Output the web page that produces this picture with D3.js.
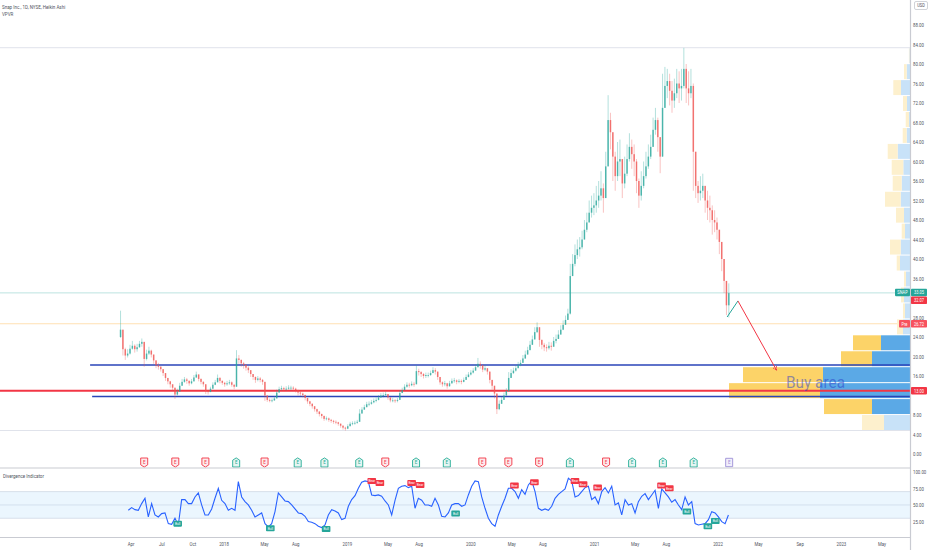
<!DOCTYPE html>
<html><head><meta charset="utf-8">
<script src="https://cdn.jsdelivr.net/npm/d3@7"></script>
<style>
html,body{margin:0;padding:0;background:#fff;}
svg{display:block;font-family:Roboto,"Liberation Sans",sans-serif;}
</style></head><body>
<svg id="c" width="932" height="550"></svg>
<script>
// ---------------- DATA ----------------
const title = "Snap Inc., 1D, NYSE, Heikin Ashi";
const subTitle = "VPVR";
const indicatorName = "Divergence Indicator";
const weekStart = "2017-03-03";   // first weekly bar (week ending)
const firstOpen = 24.0;
// weekly [close, high, low]
const w2017 = [[25.5,29.4,23.8],[21.5,24.5,20.2],[20.2,21.8,19.3],[20.6,21.5,19.8],[21.6,22.4,20.4],[22.2,23.2,21.4],[21.5,22.5,20.8],[21.9,22.6,21.0],[22.6,23.2,21.8],[23.0,23.7,22.0],
[19.5,22.5,17.9],[20.6,21.4,19.2],[21.2,22.0,20.3],[20.4,21.4,19.8],[19.2,20.4,18.5],[18.2,19.2,17.6],[17.9,18.7,17.3],[17.4,18.0,16.9],[16.6,17.3,16.0],[15.6,16.3,15.0],
[14.9,15.6,14.3],[14.3,15.0,13.6],[13.6,14.2,13.0],[12.2,13.4,11.3],[12.8,13.4,12.0],[14.0,14.6,12.9],[14.8,15.4,14.0],[15.3,15.8,14.6],[15.0,15.6,14.4],[14.5,15.1,14.0],
[14.9,15.4,14.3],[15.7,16.2,15.0],[16.3,16.9,15.6],[15.4,16.4,14.9],[14.8,15.5,14.3],[14.3,14.9,13.8],[12.9,14.2,12.3],[12.7,13.2,12.2],[13.4,13.8,12.7],[14.2,14.7,13.3],
[14.7,15.2,14.1],[15.6,16.3,14.8],[15.0,15.8,14.5],[14.6,15.1,14.2]];
const w2018 = [[14.3,14.8,13.8],[14.5,15.0,14.0],[14.7,15.2,14.2],[14.2,14.9,13.8],[13.8,14.3,13.3],[19.6,21.3,13.9],[19.3,20.3,18.5],[18.6,19.4,17.9],[18.3,18.9,17.5],[17.7,18.4,17.1],
[17.2,18.0,16.6],[16.4,17.2,15.8],[15.8,16.4,15.2],[15.2,15.9,14.6],[15.5,16.0,14.9],[15.2,15.8,14.7],[14.8,15.4,14.2],[12.0,14.6,10.9],[11.1,12.0,10.7],[10.9,11.4,10.6],
[11.0,11.4,10.6],[11.4,11.9,10.9],[12.6,13.2,11.4],[13.3,13.8,12.6],[13.5,14.0,13.0],[13.3,13.8,12.9],[13.4,13.9,13.0],[13.6,14.1,13.2],[13.6,14.0,13.1],[13.4,13.9,12.9],
[13.1,13.6,12.6],[12.6,13.2,12.0],[12.4,12.9,11.9],[12.1,12.6,11.6],[11.5,12.2,11.0],[10.8,11.5,10.3],[10.3,10.9,9.8],[9.8,10.4,9.3],[9.2,9.8,8.7],[8.7,9.3,8.2],
[8.2,8.8,7.7],[7.8,8.3,7.3],[7.2,7.9,6.8],[7.3,7.7,6.9],[7.0,7.5,6.6],[6.8,7.2,6.4],[6.6,7.0,6.2],[6.5,6.9,6.1],[6.2,6.6,5.8],[5.8,6.3,5.4],
[5.4,5.9,5.0],[5.2,5.6,4.8]];
const w2019 = [[5.7,6.1,5.1],[6.2,6.6,5.7],[6.3,6.7,5.9],[6.4,6.8,6.0],[6.6,7.0,6.2],[8.3,9.2,6.6],[9.1,9.6,8.4],[9.6,10.1,9.1],[10.2,10.7,9.6],[10.3,10.8,9.8],
[10.6,11.1,10.1],[10.9,11.4,10.4],[11.1,11.6,10.6],[11.6,12.1,11.0],[12.0,12.5,11.5],[12.1,12.6,11.6],[12.3,12.8,11.7],[11.6,12.3,11.1],[11.0,11.6,10.6],[11.0,11.5,10.6],
[10.9,11.3,10.5],[11.1,11.5,10.6],[12.5,13.1,11.1],[13.1,13.6,12.5],[13.8,14.3,13.1],[14.2,14.7,13.6],[14.1,14.6,13.6],[14.4,14.9,13.9],[14.3,14.8,13.8],[17.0,18.2,14.4],
[16.8,17.5,16.1],[16.4,17.0,15.8],[16.0,16.6,15.5],[16.2,16.7,15.6],[16.2,16.7,15.7],[16.6,17.1,16.0],[17.2,17.8,16.6],[16.9,17.6,16.3],[15.8,16.8,15.2],[14.7,15.6,14.2],
[14.3,14.9,13.8],[14.5,15.0,13.9],[13.9,14.6,13.4],[14.5,15.0,13.8],[15.0,15.5,14.4],[15.1,15.6,14.6],[14.8,15.3,14.3],[15.0,15.4,14.5],[14.8,15.3,14.3],[15.2,15.7,14.7],
[15.8,16.3,15.2],[16.3,16.8,15.7]];
const w2020 = [[16.7,17.2,16.1],[17.1,17.6,16.5],[17.8,18.4,17.1],[18.5,19.7,17.8],[18.2,19.0,17.5],[17.3,18.3,16.8],[17.6,18.2,17.0],[16.9,17.6,16.3],[15.2,16.6,14.5],[14.0,14.9,13.2],
[12.4,13.6,11.4],[9.2,11.6,8.2],[10.3,11.0,9.0],[11.1,11.7,10.3],[12.0,12.6,11.2],[12.9,13.5,12.1],[15.6,16.8,12.8],[16.6,17.4,15.8],[17.1,17.7,16.4],[17.6,18.2,16.9],
[18.3,18.9,17.6],[18.7,19.3,18.0],[19.6,20.3,18.8],[20.4,21.2,19.5],[21.3,22.0,20.4],[22.4,23.2,21.4],[23.5,24.3,22.5],[25.0,26.0,23.8],[26.0,27.0,24.8],[23.4,25.8,22.0],
[22.4,23.5,21.5],[21.9,22.8,21.1],[21.7,22.5,21.0],[22.2,23.0,21.4],[22.0,22.9,21.2],[23.2,24.0,22.2],[23.6,24.5,22.7],[24.5,25.4,23.6],[25.5,26.4,24.5],[26.5,27.4,25.4],
[27.5,28.4,26.5],[28.8,29.8,27.6],[36.5,39.0,28.6],[39.0,41.0,36.5],[40.8,43.0,38.5],[42.0,44.0,40.0],[42.4,44.5,40.5],[44.0,45.8,42.0],[46.0,48.0,44.0],[47.5,49.5,45.5],
[49.5,52.0,47.5],[50.5,53.0,48.5]];
const w2021 = [[51.0,53.5,49.0],[52.0,55.0,49.5],[53.0,56.0,50.5],[54.5,58.0,52.0],[52.5,55.5,49.5],[59.0,62.0,52.5],[68.5,73.6,59.0],[66.0,70.0,62.5],[61.0,66.0,56.0],[57.0,62.0,54.0],
[60.0,64.0,56.0],[60.5,64.5,57.0],[55.5,60.0,52.5],[57.5,61.0,54.5],[60.5,63.5,57.0],[63.0,65.8,60.0],[61.5,64.5,58.5],[60.0,63.5,57.0],[56.0,60.5,53.5],[53.0,56.5,50.5],
[55.0,58.0,52.0],[57.0,60.0,54.5],[59.0,62.0,56.5],[61.0,63.5,58.5],[63.0,65.5,60.5],[66.5,69.0,63.5],[68.5,71.0,65.5],[65.0,69.0,62.0],[61.0,65.0,57.6],[71.0,78.0,61.0],
[75.5,79.4,72.0],[76.5,79.0,73.0],[74.5,78.0,71.5],[72.5,76.5,70.0],[74.0,77.0,71.0],[76.0,79.0,73.0],[75.0,78.5,72.0],[75.5,79.0,72.5],[79.0,83.3,75.0],[75.0,80.0,72.0],
[74.0,78.5,71.5],[75.5,79.0,73.0],[62.0,76.0,54.0],[55.0,58.0,52.5],[53.5,56.0,51.5],[54.0,57.0,52.0],[55.0,57.5,52.5],[52.0,55.0,49.5],[50.5,54.0,48.0],[50.0,53.0,47.5],
[48.0,51.0,45.0],[47.5,50.0,45.5],[46.0,48.5,44.0]];
const w2022 = [[43.5,46.0,41.0],[40.0,43.5,37.5],[35.5,40.0,33.0],[30.5,35.5,28.5],[33.0,35.0,28.0]];

// price levels
const lastPrice = 33.05, postPrice = 32.07, prevClose = 26.72;
const rangeHigh = 83.34, rangeLow = 4.82;
const redLevel = 13.0;
const blueLevels = [{p:18.25, from:"2016-12-01"}, {p:11.8, from:"2016-12-07"}];
const arrowPts = [["2022-01-28",28.1],["2022-03-01",31.4],["2022-06-23",17.2]];

// volume profile, rows bottom->top (24 rows between rangeLow and rangeHigh)
const vpUp   = [26,38,90,87,38,29,7,5,6,4,10,9.3,5,6,9.3,8.3,6.7,12.3,3.3,1,3,9,3.3,0.6];
const vpDown = [22,48,91,80,31,28,6,2,3,2,3.3,10.7,3.3,8,15.7,9,11.6,10,4,3.3,4,7.7,2.7,0.5];
const vpValueArea = [1,2,3,4,5];

// earnings
const earnDates = ["2017-05-10","2017-08-10","2017-11-07","2018-02-06","2018-05-01","2018-08-07","2018-10-25","2019-02-05","2019-04-23","2019-07-23","2019-10-22","2020-02-04","2020-04-21","2020-07-21","2020-10-20","2021-02-04","2021-04-22","2021-07-22","2021-10-21","2022-02-03"];
const earnType  = ["miss","miss","miss","beat","miss","beat","beat","beat","miss","beat","beat","miss","miss","miss","beat","miss","beat","beat","beat","next"];

// divergence indicator (sampled every ~9.86 days)
const indStart = "2017-03-24";
const indStepDays = 9.86;
const indValues = [42,46,43,42,52,60,32,52,35,32,
37,38,22,21,30,20,58,58,52,52,
62,68,50,35,35,44,60,75,57,52,
42,45,42,85,62,55,50,42,32,35,
38,22,17,22,40,68,62,56,55,50,
44,38,37,33,25,24,22,18,16,20,
35,43,41,38,28,30,48,58,64,75,
84,86,85,65,64,65,63,56,50,35,
57,75,78,79,76,78,45,60,57,50,
50,48,60,50,33,32,38,50,52,52,
48,50,65,78,86,85,62,45,30,22,
18,35,48,60,75,75,70,60,73,66,
80,86,70,45,42,44,42,48,60,66,
70,74,90,86,62,64,70,76,78,58,
62,52,70,76,68,78,50,53,35,58,
50,52,38,55,63,67,58,65,72,45,
74,68,62,54,58,50,43,62,50,55,
22,20,21,22,28,40,38,32,25,22,35];
const divLabels = [["2017-08-17",22,"Bull"],["2018-05-18",15,"Bull"],["2018-10-30",14,"Bull"],["2019-03-14",86,"Bear"],["2019-04-07",83,"Bear"],["2019-07-10",83,"Bear"],["2019-08-04",80,"Bear"],["2019-11-17",37,"Bull"],["2020-05-09",79,"Bear"],["2020-07-07",84,"Bear"],["2020-11-04",86,"Bear"],["2020-11-28",81,"Bear"],["2021-01-10",76,"Bear"],["2021-07-18",79,"Bear"],["2021-08-10",75,"Bear"],["2021-10-01",40,"Bull"],["2021-12-02",18,"Bull"],["2021-12-24",26,"Bull"]];

// axes (32.00 and 12.00 are hidden behind the price badges in the reference)
const priceTicks = [0,4,8,16,20,24,28,36,40,44,48,52,56,60,64,68,72,76,80,84,88];
const indTicks = [100, 75, 50, 25];
const timeTickDates = ["2017-04-01","2017-07-01","2017-10-01","2018-01-01","2018-05-01","2018-08-01","2019-01-01","2019-05-01","2019-08-01","2020-01-01","2020-05-01","2020-08-01","2021-01-01","2021-05-01","2021-08-01","2022-01-01","2022-05-01","2022-09-01","2023-01-01","2023-05-01"];
const timeTickLabels = ["Apr","Jul","Oct","2018","May","Aug","2019","May","Aug","2020","May","Aug","2021","May","Aug","2022","May","Sep","2023","May"];

// ---------------- CHART ----------------
const parse = d3.utcParse("%Y-%m-%d");
const DAY = 864e5;
const AX = 910.5;
const svg = d3.select("#c");
const x = d3.scaleUtc().domain([parse("2018-01-01"), parse("2022-01-01")]).range([224, 718]);
const y = d3.scaleLinear().domain([0, 88]).range([454, 25]);
const yi = d3.scaleLinear().domain([0, 100]).range([538.3, 471.6]);
const TEAL = "#26a69a", RED = "#ef5350", LRED = "#f23645";

function txt(g, tx, ty, s, o) {
  o = o || {};
  return g.append("text")
    .attr("transform", `translate(${tx},${ty}) scale(${o.sx || 0.75},1)`)
    .attr("font-size", o.fs || 6)
    .attr("fill", o.fill || "#50535e")
    .attr("text-anchor", o.anchor || "start")
    .attr("dominant-baseline", "central")
    .attr("font-weight", o.fw || 400)
    .text(s);
}

svg.append("rect").attr("width", 932).attr("height", 550).attr("fill", "#fff");

svg.append("clipPath").attr("id", "pp").append("rect").attr("x", 0).attr("y", 0).attr("width", AX).attr("height", 467.5);
const gP = svg.append("g").attr("clip-path", "url(#pp)");

// light price lines
gP.append("line").attr("x1", 0).attr("x2", AX).attr("y1", y(rangeHigh)).attr("y2", y(rangeHigh)).attr("stroke", "#e0e3eb").attr("stroke-width", 1);
gP.append("line").attr("x1", 0).attr("x2", AX).attr("y1", y(rangeLow)).attr("y2", y(rangeLow)).attr("stroke", "#e0e3eb").attr("stroke-width", 1);
gP.append("line").attr("x1", 0).attr("x2", AX).attr("y1", y(lastPrice)).attr("y2", y(lastPrice)).attr("stroke", "rgba(38,166,154,0.3)").attr("stroke-width", 1);
gP.append("line").attr("x1", 0).attr("x2", AX).attr("y1", y(prevClose)).attr("y2", y(prevClose)).attr("stroke", "rgba(255,152,0,0.3)").attr("stroke-width", 1);

// volume profile
const nRows = vpUp.length;
const rowH = (rangeHigh - rangeLow) / nRows;
const vx = d3.scaleLinear().domain([0, 181]).range([0, 181]);
const vpData = vpUp.map((u, i) => ({ i, u, d: vpDown[i], lo: rangeLow + i * rowH, hi: rangeLow + (i + 1) * rowH, va: vpValueArea.includes(i) }));
const gV = gP.append("g");
gV.selectAll("rect.up").data(vpData).join("rect").attr("class", "up")
  .attr("x", d => AX - 0.5 - vx(d.u)).attr("width", d => vx(d.u))
  .attr("y", d => y(d.hi) + 0.5).attr("height", d => y(d.lo) - y(d.hi) - 1)
  .attr("fill", d => d.va ? "#5ba9e6" : "#c8e2f8");
gV.selectAll("rect.dn").data(vpData).join("rect").attr("class", "dn")
  .attr("x", d => AX - 0.5 - vx(d.u) - vx(d.d)).attr("width", d => vx(d.d))
  .attr("y", d => y(d.hi) + 0.5).attr("height", d => y(d.lo) - y(d.hi) - 1)
  .attr("fill", d => d.va ? "#fcd368" : "#fdf0cd");

// horizontal drawn lines
blueLevels.forEach(b => {
  gP.append("line").attr("x1", x(parse(b.from))).attr("x2", AX).attr("y1", y(b.p)).attr("y2", y(b.p))
    .attr("stroke", "#2a45b8").attr("stroke-width", 1.4);
});
gP.append("line").attr("x1", 0).attr("x2", AX).attr("y1", y(redLevel)).attr("y2", y(redLevel))
  .attr("stroke", "#f23645").attr("stroke-width", 2);

// candles
const weeks = [].concat(w2017, w2018, w2019, w2020, w2021, w2022);
const start = parse(weekStart);
let pc = firstOpen;
const candles = weeks.map((w, i) => { const o = pc; pc = w[0]; return { d: new Date(start.getTime() + (7 * i - 2) * DAY), o, c: w[0], h: w[1], l: w[2] }; });
const gC = gP.append("g");
gC.selectAll("line").data(candles).join("line")
  .attr("x1", d => x(d.d)).attr("x2", d => x(d.d))
  .attr("y1", d => y(Math.max(d.h, d.o, d.c))).attr("y2", d => y(Math.min(d.l, d.o, d.c)))
  .attr("stroke", d => d.c >= d.o ? TEAL : RED).attr("stroke-width", 0.7).attr("stroke-opacity", 0.5);
gC.selectAll("rect").data(candles).join("rect")
  .attr("x", d => x(d.d) - 0.75).attr("width", 1.5)
  .attr("y", d => y(Math.max(d.o, d.c))).attr("height", d => Math.max(0.8, Math.abs(y(d.o) - y(d.c))))
  .attr("fill", d => d.c >= d.o ? TEAL : RED).attr("fill-opacity", 0.75);

// arrow
const ap = arrowPts.map(p => [x(parse(p[0])), y(p[1])]);
gP.append("line").attr("x1", ap[0][0]).attr("y1", ap[0][1]).attr("x2", ap[1][0]).attr("y2", ap[1][1]).attr("stroke", TEAL).attr("stroke-width", 1);
gP.append("line").attr("x1", ap[1][0]).attr("y1", ap[1][1]).attr("x2", ap[2][0]).attr("y2", ap[2][1]).attr("stroke", LRED).attr("stroke-width", 1);
{
  const ang = Math.atan2(ap[2][1] - ap[1][1], ap[2][0] - ap[1][0]);
  const L = 5;
  [-0.5, 0.5].forEach(da => {
    gP.append("line").attr("x1", ap[2][0]).attr("y1", ap[2][1])
      .attr("x2", ap[2][0] - L * Math.cos(ang + da)).attr("y2", ap[2][1] - L * Math.sin(ang + da))
      .attr("stroke", LRED).attr("stroke-width", 1).attr("stroke-dasharray", "1.5,1");
  });
}

// Buy area text
gP.append("text").attr("x", 786).attr("y", 387.5).attr("font-size", 17).attr("textLength", 59).attr("lengthAdjust", "spacingAndGlyphs")
  .attr("fill", "rgba(40,60,200,0.5)").text("Buy area");

// earnings markers
const gE = svg.append("g");
earnDates.forEach((ds, i) => {
  const t = earnType[i];
  const cx = x(parse(ds)), cy = 462.5;
  const col = t === "miss" ? "#f23645" : t === "beat" ? "#22ab94" : "#9c8fd6";
  let pts;
  if (t === "miss") pts = [[-3.5,-4.5],[3.5,-4.5],[3.5,2.3],[0,4.6],[-3.5,2.3]];
  else if (t === "beat") pts = [[0,-4.6],[3.5,-2.3],[3.5,4.5],[-3.5,4.5],[-3.5,-2.3]];
  else pts = [[-3.5,-4.2],[3.5,-4.2],[3.5,4.2],[-3.5,4.2]];
  gE.append("polygon").attr("points", pts.map(p => [cx + p[0], cy + p[1]].join(",")).join(" "))
    .attr("fill", t === "miss" ? "#fdeaec" : t === "beat" ? "#e6f5f2" : "#f1eefb").attr("stroke", col).attr("stroke-width", 0.9);
  txt(gE, cx, cy + 0.2, "E", { fs: 5, fill: col, anchor: "middle", sx: 0.9 });
});

// separators
svg.append("line").attr("x1", 0).attr("x2", AX).attr("y1", 468).attr("y2", 468).attr("stroke", "#c9cbd2").attr("stroke-width", 1.2);
svg.append("line").attr("x1", 0).attr("x2", AX).attr("y1", 537.5).attr("y2", 537.5).attr("stroke", "#c9cbd2").attr("stroke-width", 1.2);

// indicator pane
const gI = svg.append("g");
gI.append("rect").attr("x", 0).attr("width", AX).attr("y", yi(70)).attr("height", yi(30) - yi(70)).attr("fill", "rgba(33,150,243,0.09)");
[70, 50, 30].forEach(v => gI.append("line").attr("x1", 0).attr("x2", AX).attr("y1", yi(v)).attr("y2", yi(v))
  .attr("stroke", v === 50 ? "rgba(120,140,170,0.25)" : "rgba(120,140,170,0.3)").attr("stroke-width", 0.8));
const iStart = parse(indStart);
const indPts = indValues.map((v, k) => [x(new Date(iStart.getTime() + k * indStepDays * DAY)), yi(v)]);
gI.append("path").attr("d", d3.line()(indPts)).attr("fill", "none").attr("stroke", "#2962ff").attr("stroke-width", 1.1);
divLabels.forEach(l => {
  const cx = x(parse(l[0])), cy = yi(l[1]);
  gI.append("rect").attr("x", cx - 4.3).attr("y", cy - 3).attr("width", 8.6).attr("height", 6).attr("rx", 0.8)
    .attr("fill", l[2] === "Bull" ? "#26a69a" : "#f23645");
  txt(gI, cx, cy + 0.2, l[2], { fs: 4, fill: "#fff", anchor: "middle", sx: 0.8 });
});
txt(svg, 3, 476, indicatorName, { fs: 6, fill: "#50535e" });

// header
txt(svg, 2, 6.5, title, { fs: 6, fill: "#50535e" });
txt(svg, 2, 14, subTitle, { fs: 6, fill: "#50535e" });

// right axis line
svg.append("line").attr("x1", AX).attr("x2", AX).attr("y1", 0).attr("y2", 550).attr("stroke", "#c9cbd2").attr("stroke-width", 1.2);

// price axis labels
const gA = svg.append("g");
priceTicks.forEach(v => txt(gA, 913, y(v), v.toFixed(2), { fs: 6, fill: "#50535e", sx: 0.72 }));
indTicks.forEach(v => txt(gA, 913, yi(v), v.toFixed(2), { fs: 6, fill: "#50535e", sx: 0.72 }));

// USD badge
gA.append("rect").attr("x", 914.5).attr("y", 1.5).attr("width", 13).attr("height", 8).attr("rx", 1.5).attr("fill", "#fff").attr("stroke", "#b2b5be").attr("stroke-width", 0.6);
txt(gA, 921, 5.8, "USD", { fs: 5, fill: "#50535e", anchor: "middle", sx: 0.8 });

// price badges
function badge(bx, by, w, h, fill, label) {
  gA.append("rect").attr("x", bx).attr("y", by - h / 2).attr("width", w).attr("height", h).attr("rx", 0.8).attr("fill", fill);
  txt(gA, bx + w / 2, by + 0.2, label, { fs: 5.5, fill: "#fff", anchor: "middle", sx: 0.72 });
}
badge(895, y(lastPrice) - 0.5, 15, 7.5, TEAL, "SNAP");
badge(911, y(lastPrice) - 0.5, 16, 7.5, TEAL, lastPrice.toFixed(2));
badge(911, y(lastPrice) + 7.3, 16, 7.5, LRED, postPrice.toFixed(2));
badge(899, y(prevClose), 11, 7.5, "#f7525f", "Pre");
badge(911, y(prevClose), 16, 7.5, "#f7525f", prevClose.toFixed(2));
badge(911, y(redLevel), 16, 7.5, LRED, redLevel.toFixed(2));

// time axis
const gT = svg.append("g");
timeTickDates.forEach((ds, i) => txt(gT, x(parse(ds)), 543.5, timeTickLabels[i], { fs: 6, fill: "#50535e", anchor: "middle", sx: 0.72 }));
</script></body></html>
